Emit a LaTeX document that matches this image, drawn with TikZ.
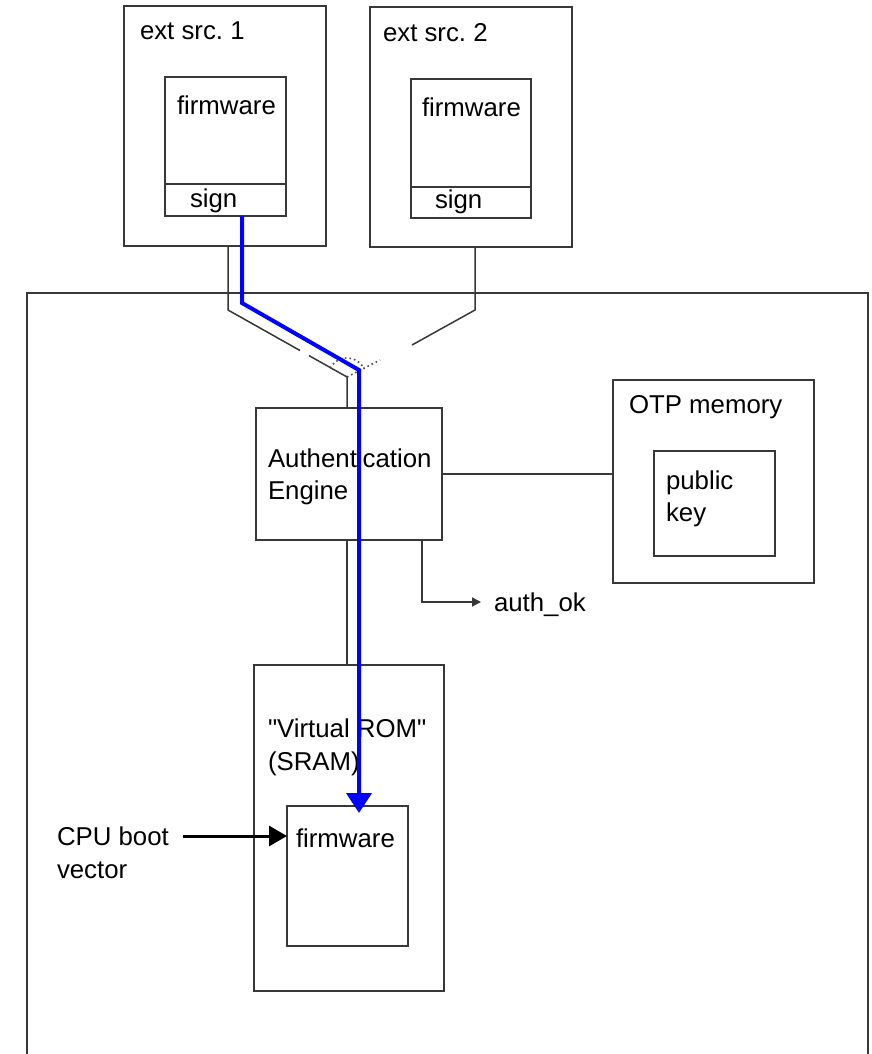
\documentclass[tikz,border=0pt]{standalone}
\usepackage{fontspec}
\setmainfont{Liberation Sans}
\usetikzlibrary{arrows.meta,calc}
\frenchspacing
% straight double quote, set as a glyph so the TeX ligature mapping leaves it alone
\newcommand\straightquote{\XeTeXglyph\XeTeXcharglyph"22\relax}

\tikzset{
  box/.style={draw=black!78, line width=1.5pt, anchor=north west, inner sep=0pt, outer sep=0pt},
  lbl/.style={anchor=base west, inner sep=0pt, outer sep=0pt},
  wire/.style={draw=black!78, line width=1.5pt},
  swmark/.style={draw=black!70, line width=1.6pt, dash pattern=on 1.6pt off 3pt},
  bluepath/.style={draw=blue, line width=4pt, line join=miter,
    -{Triangle[length=20pt,width=25pt]}},
  bootarrow/.style={draw=black, line width=3pt,
    -{Triangle[length=18pt,width=20pt]}},
  okarrow/.style={wire, -{Triangle[length=9pt,width=9pt]}}
}

\begin{document}
\begin{tikzpicture}[x=1pt, y=-1pt, font=\fontsize{25.8pt}{32pt}\selectfont]
\useasboundingbox (0,0) rectangle (872,1054);

% chip outline, open at the bottom
\coordinate (chipBL) at (27,1054);
\coordinate (chipTL) at (27,293);
\coordinate (chipTR) at (868,293);
\coordinate (chipBR) at (868,1054);
\draw[wire] (chipBL) -- (chipTL) -- (chipTR) -- (chipBR);

% external source 1
\node[box, minimum width=202pt, minimum height=240pt] (ext1) at (124,6) {};
\node[box, minimum width=121pt, minimum height=107pt] (fw1) at (165,77) {};
\node[box, minimum width=121pt, minimum height=32pt] (sg1) at (165,184) {};
\node[lbl] (ext1t) at (140,40) {ext src. 1};
\node[lbl] (fw1t) at (177,115) {firmware};
\node[lbl] (sg1t) at (190,207) {sign};

% external source 2
\node[box, minimum width=202pt, minimum height=240pt] (ext2) at (370,7) {};
\node[box, minimum width=120pt, minimum height=108pt] (fw2) at (411,79) {};
\node[box, minimum width=120pt, minimum height=31pt] (sg2) at (411,187) {};
\node[lbl] (ext2t) at (383,42) {ext src. 2};
\node[lbl] (fw2t) at (422,117) {firmware};
\node[lbl] (sg2t) at (435,208) {sign};

% authentication engine
\node[box, minimum width=186pt, minimum height=132pt] (auth) at (256,408) {};
\node[lbl] (autht1) at (268,467) {Authentication};
\node[lbl] (autht2) at (268,499) {Engine};

% OTP memory with public key
\node[box, minimum width=201pt, minimum height=203pt] (otp) at (613,380) {};
\node[box, minimum width=121pt, minimum height=105pt] (pk) at (654,451) {};
\node[lbl] (otpt) at (629,413) {OTP memory};
\node[lbl] (pkt1) at (666,489) {public};
\node[lbl] (pkt2) at (666,521) {key};

% virtual ROM
\node[box, minimum width=190pt, minimum height=326pt] (vrom) at (254,665) {};
\node[box, minimum width=121pt, minimum height=140pt] (vfw) at (287,806) {};
\node[lbl] (vromt1) at (268,737) {\straightquote Virtual ROM\straightquote};
\node[lbl] (vromt2) at (268,770) {(SRAM)};
\node[lbl] (vfwt) at (296,847) {firmware};

% CPU boot vector
\node[lbl] (cput1) at (57,845) {CPU boot};
\node[lbl] (cput2) at (57,878) {vector};

% source selector switch
\coordinate (k1) at (228,310);
\coordinate (k2) at (300,350.5);
\coordinate (k3) at (309,355.6);
\coordinate (pivot) at (347,377);
\coordinate (m1) at (475,310);
\coordinate (m2) at (412,345);
\coordinate (dotEnd) at (380,360);

\draw[wire] (ext1.south -| k1) -- (k1) -- (k2);
\draw[wire] (k3) -- (pivot) -- (pivot |- auth.north);
\draw[wire] (ext2.south -| m1) -- (m1) -- (m2);
\draw[swmark] (pivot) -- (dotEnd);
\draw[swmark] ([shift={(152:19pt)}]pivot) arc[start angle=152, end angle=32, radius=19pt];

% engine links
\draw[wire] (auth.east) -- (auth.east -| otp.west);
\draw[wire] (auth.south -| pivot) -- (pivot |- vrom.north);
\coordinate (ao) at (422,602);
\coordinate (aotip) at (481,602);
\draw[okarrow] (auth.south -| ao) -- (ao) -- (aotip);
\node[lbl] (authok) at (494,611) {auth\_ok};

% boot vector arrow
\coordinate (cpuarr) at (183,836);
\draw[bootarrow] (cpuarr) -- (cpuarr -| vfw.west);

% firmware load path
\coordinate (b1) at (242,303);
\coordinate (b2) at (359,370);
\draw[bluepath, shorten >=-7pt] (sg1.south -| b1) -- (b1) -- (b2) -- (b2 |- vfw.north);
\end{tikzpicture}
\end{document}
